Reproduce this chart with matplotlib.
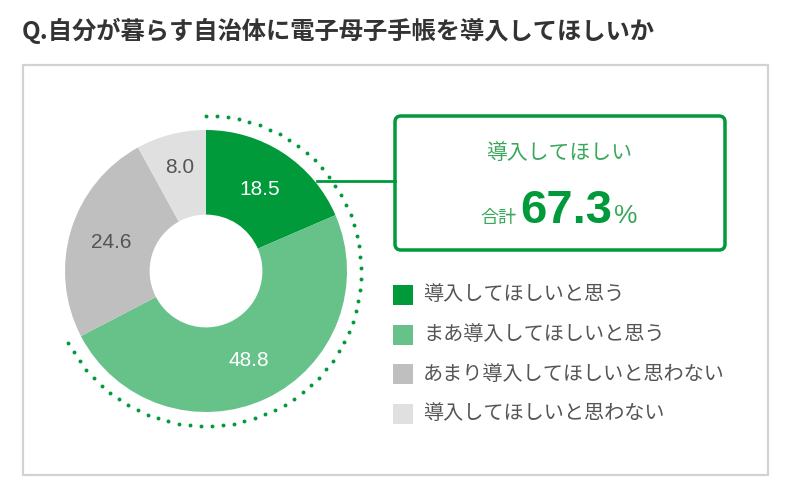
import numpy as np
import matplotlib
matplotlib.use("Agg")
import matplotlib.pyplot as plt
from matplotlib.patches import Rectangle, FancyBboxPatch

plt.rcParams['font.family'] = ['Noto Sans CJK JP', 'DejaVu Sans']

title = "Q.自分が暮らす自治体に電子母子手帳を導入してほしいか"
labels = ["導入してほしいと思う", "まあ導入してほしいと思う",
          "あまり導入してほしいと思わない", "導入してほしいと思わない"]
values = [18.5, 48.8, 24.6, 8.0]
colors = ["#009a3a", "#67c28a", "#bfbfbf", "#e0e0e0"]
text_colors = ["white", "white", "#555555", "#555555"]
label_r = [0.69, 0.70, 0.70, 0.76]
callout_label = "導入してほしい"
callout_prefix = "合計"

GREEN = "#009a3a"
W, H = 800, 496
fig = plt.figure(figsize=(W / 100, H / 100), dpi=100)

# background axes in pixel coords (y down)
bg = fig.add_axes([0, 0, 1, 1])
bg.set_xlim(0, W)
bg.set_ylim(H, 0)
bg.axis('off')

bg.text(22, 31, title, fontsize=17.5, fontweight='bold', color='#333333',
        ha='left', va='center')
bg.add_patch(Rectangle((23, 65), 745, 410, fill=False, edgecolor='#d2d2d2', lw=1.6))

# donut
cx, cy, R = 206, 271, 141
lim = 1.2
side = 2 * lim * R
ax = fig.add_axes([(cx - side / 2) / W, (H - cy - side / 2) / H, side / W, side / H])
wedges, _ = ax.pie(values, colors=colors, startangle=90, counterclock=False,
                   radius=1, wedgeprops=dict(width=0.60, edgecolor='none'))
ax.set_xlim(-lim, lim)
ax.set_ylim(-lim, lim)
ax.set_aspect('equal')
ax.axis('off')

total = sum(values)
cum = np.cumsum([0] + values)
for i, v in enumerate(values):
    mid = 90 - (cum[i] + v / 2) / total * 360
    r = label_r[i]
    ax.text(r * np.cos(np.radians(mid)), r * np.sin(np.radians(mid)), f"{v:.1f}",
            ha='center', va='center', fontsize=15, color=text_colors[i],
            family=['Liberation Sans', 'DejaVu Sans'])

# dotted arc for the positive share
share = values[0] + values[1]
end = 90 - share / total * 360
n_dots = 61
th = np.radians(np.linspace(90, end, n_dots))
ax.plot(1.1 * np.cos(th), 1.1 * np.sin(th), 'o', color=GREEN, ms=2.8, mec='none',
        clip_on=False)

# connector and callout box
bg.plot([317, 395], [181, 181], color=GREEN, lw=2)
bg.add_patch(FancyBboxPatch((395, 116), 330, 134, boxstyle="round,pad=0,rounding_size=6",
                            fill=True, facecolor='white', edgecolor=GREEN, lw=2.5))
bg.text(559, 153, callout_label, fontsize=15, color='#3aa85a', ha='center', va='center')
bg.text(516, 223, callout_prefix, fontsize=13, color='#3aa85a', ha='right', va='baseline')
bg.text(520, 223, f"{share:.1f}", fontsize=34, fontweight='bold', color=GREEN,
        ha='left', va='baseline', family=['Liberation Sans', 'DejaVu Sans'])
bg.text(614, 223, "%", fontsize=19, color='#3aa85a', ha='left', va='baseline',
        family=['Liberation Sans', 'DejaVu Sans'])

# legend
for i, (lab, col) in enumerate(zip(labels, colors)):
    y = 295 + 39.5 * i
    bg.add_patch(Rectangle((393, y - 10), 20, 20, facecolor=col, edgecolor='none'))
    bg.text(423, y, lab, fontsize=14.5, color='#555555', ha='left', va='center')

fig.savefig("out.png", dpi=100, facecolor='white')
